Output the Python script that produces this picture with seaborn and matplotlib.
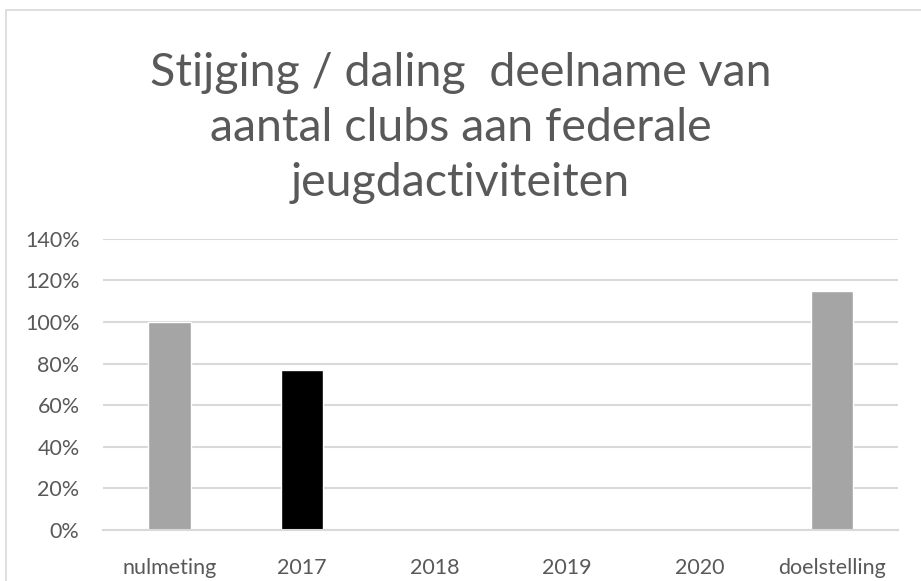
import seaborn as sns
import matplotlib.pyplot as plt
from matplotlib.patches import Rectangle
from matplotlib.ticker import PercentFormatter

# data
categories = ['nulmeting', '2017', '2018', '2019', '2020', 'doelstelling']
values = [1.00, 0.77, 0.0, 0.0, 0.0, 1.15]
bar_colors = ['#a5a5a5', '#000000', '#a5a5a5', '#a5a5a5', '#a5a5a5', '#a5a5a5']

sns.set_theme(style="white")
plt.rcParams['font.family'] = ['Lato', 'DejaVu Sans']
text_color = '#595959'
grid_color = '#d9d9d9'

fig = plt.figure(figsize=(9.21, 5.81), dpi=100)
ax = fig.add_axes([0.112, 0.088, 0.863, 0.501])

sns.barplot(x=categories, y=values, hue=categories, palette=bar_colors,
            width=0.32, legend=False, ax=ax, saturation=1)

ax.set_ylim(0, 1.4)
ax.set_yticks([0, 0.2, 0.4, 0.6, 0.8, 1.0, 1.2, 1.4])
ax.yaxis.set_major_formatter(PercentFormatter(1.0, decimals=0))
ax.set_xlim(-0.5, 5.5)
ax.grid(axis='y', color=grid_color, linewidth=1.5)
ax.set_axisbelow(True)
for side in ['left', 'right', 'top']:
    ax.spines[side].set_visible(False)
ax.spines['bottom'].set_color(grid_color)
ax.spines['bottom'].set_linewidth(1.5)
ax.tick_params(axis='both', length=0, labelsize=15.5, colors=text_color)
ax.tick_params(axis='x', pad=20)
ax.tick_params(axis='y', pad=17)

fig.text(0.5, 0.78, 'Stijging / daling  deelname van\naantal clubs aan federale\njeugdactiviteiten',
         ha='center', va='center', fontsize=33.5, color=text_color, linespacing=1.38)

# light frame around the chart area
fig.patches.append(Rectangle((0.006, -0.01), 1.0, 0.993, transform=fig.transFigure,
                             fill=False, edgecolor=grid_color, linewidth=1.2))

plt.savefig('out.png', dpi=100)
